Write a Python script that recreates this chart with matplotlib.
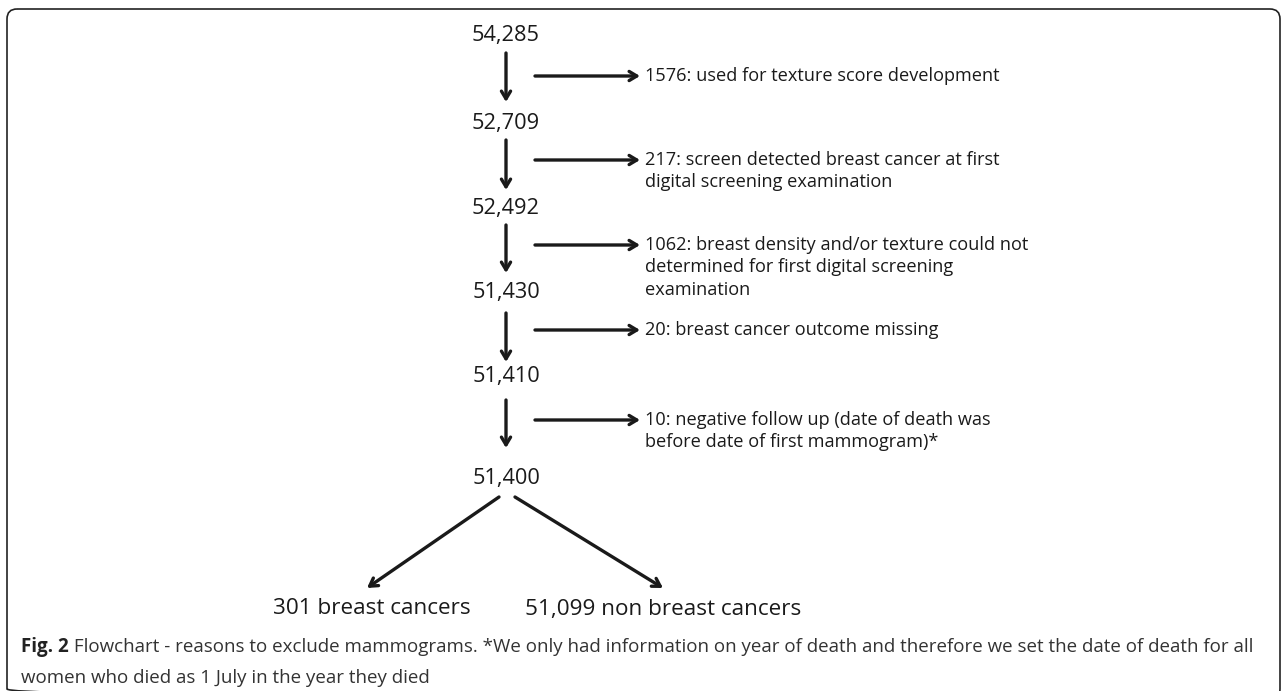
import matplotlib
matplotlib.use("Agg")
import matplotlib.pyplot as plt
from matplotlib.patches import FancyBboxPatch
from matplotlib import font_manager

counts = ["54,285", "52,709", "52,492", "51,430", "51,410", "51,400"]
exclusions = [
    "1576: used for texture score development",
    "217: screen detected breast cancer at first\ndigital screening examination",
    "1062: breast density and/or texture could not\ndetermined for first digital screening\nexamination",
    "20: breast cancer outcome missing",
    "10: negative follow up (date of death was\nbefore date of first mammogram)*",
]
leaves = ["301 breast cancers", "51,099 non breast cancers"]
caption_bold = "Fig. 2"
caption_rest = (" Flowchart - reasons to exclude mammograms. *We only had information on year of death "
                "and therefore we set the date of death for all")
caption_line2 = "women who died as 1 July in the year they died"

W, H = 1287, 691
fig = plt.figure(figsize=(W / 100, H / 100), dpi=100)
ax = fig.add_axes([0, 0, 1, 1])
ax.set_xlim(0, W)
ax.set_ylim(H, 0)
ax.axis("off")
fig.canvas.draw()
renderer = fig.canvas.get_renderer()


def width_px(t):
    return t.get_window_extent(renderer).width


def fit(t, target):
    w = width_px(t)
    t.set_fontsize(t.get_fontsize() * target / w)


ax.add_patch(FancyBboxPatch((7, 9), 1273, 690, boxstyle="round,pad=0,rounding_size=10",
                            fill=False, ec="#222222", lw=1.2))

ink = "#1a1a1a"
fam = ["Open Sans", "DejaVu Sans"]
names = {f.name for f in font_manager.fontManager.ttflist}
cap_fam = ["Liberation Sans Narrow", "Open Sans"] if "Liberation Sans Narrow" in names else ["Open Sans"]
cap_stretch = "normal"

cx = 506
node_y = [35, 123, 208, 292, 376, 478]
arr_v = [(53, 102), (140, 190), (225, 273), (313, 362), (400, 448)]
arr_h_y = [76, 160, 245, 330, 420]
ap = dict(arrowstyle="->,head_length=0.55,head_width=0.33", lw=2.4, color=ink,
          shrinkA=0, shrinkB=0)

node_texts = []
for y, t in zip(node_y, counts):
    node_texts.append(ax.text(cx, y, t, ha="center", va="center", fontsize=16,
                              family=fam, color=ink))
fit(node_texts[0], 68)
fs_node = node_texts[0].get_fontsize()
for t in node_texts:
    t.set_fontsize(fs_node)

for (y0, y1) in arr_v:
    ax.annotate("", xy=(cx, y1), xytext=(cx, y0), arrowprops=ap)

side = []
for y, t in zip(arr_h_y, exclusions):
    ax.annotate("", xy=(640, y), xytext=(535, y), arrowprops=ap)
    side.append(ax.text(645, y - 9, t, ha="left", va="top", fontsize=13, family=fam,
                        color=ink, linespacing=1.32))
fit(side[0], 352)
fs_side = side[0].get_fontsize()
for t in side:
    t.set_fontsize(fs_side)

ax.annotate("", xy=(367, 588), xytext=(499, 497), arrowprops=ap)
ax.annotate("", xy=(663, 588), xytext=(515, 497), arrowprops=ap)

l0 = ax.text(273, 609, leaves[0], ha="left", va="center", fontsize=18, family=fam, color=ink)
fit(l0, 197)
l1 = ax.text(525, 609, leaves[1], ha="left", va="center", fontsize=l0.get_fontsize(),
             family=fam, color=ink)

t1 = ax.text(21, 647, caption_bold, ha="left", va="center", fontsize=11.5, family=cap_fam,
             fontweight="bold", color="#222222", fontstretch=cap_stretch)
t2 = ax.annotate(caption_rest, xy=(1, 0.5), xycoords=t1, ha="left", va="center",
                 fontsize=11.5, family=cap_fam, color="#333333", fontstretch=cap_stretch)
fig.canvas.draw()
total = width_px(t1) + width_px(t2)
s = (1256 - 21) / total
t1.set_fontsize(t1.get_fontsize() * s)
t2.set_fontsize(t2.get_fontsize() * s)
ax.text(21, 678, caption_line2, ha="left", va="center", fontsize=t2.get_fontsize(),
        family=cap_fam, color="#333333", fontstretch=cap_stretch)

fig.savefig("out.png", dpi=100)
